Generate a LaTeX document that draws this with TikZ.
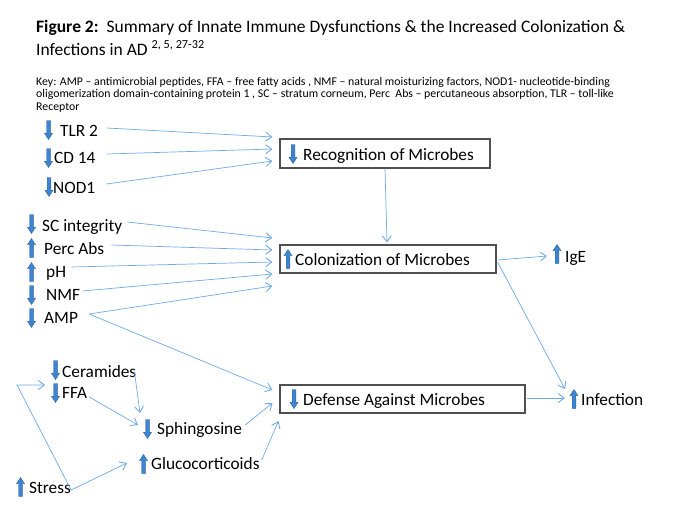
\documentclass[tikz,border=0pt]{standalone}
\usepackage{fontspec}
\setmainfont{Carlito}
\usetikzlibrary{arrows.meta,calc}
\definecolor{lnblue}{HTML}{6EAAE6}
\definecolor{icblue}{HTML}{3F84CF}
\definecolor{icedge}{HTML}{2C64A8}
\definecolor{boxgray}{HTML}{505050}
\begin{document}
\begin{tikzpicture}[x=1pt,y=-1pt,
  conn/.style={draw=lnblue, line width=0.7pt, -{Straight Barb[length=6pt,width=9pt,line width=0.9pt]}},
  lbl/.style={anchor=west, inner sep=0pt, text height=12pt, text depth=1pt, font=\fontsize{17.3}{20}\selectfont},
  tline/.style={anchor=base west, inner sep=0pt, font=\fontsize{17.5}{21}\selectfont},
  kline/.style={anchor=base west, inner sep=0pt, font=\fontsize{11.8}{13}\selectfont},
  mbox/.style={draw=boxgray, line width=1.1pt, inner sep=0pt, rectangle},
  upic/.pic={\fill[icblue, draw=icedge, line width=0.4pt] (-1.8,9.5) -- (-1.8,-3.3) -- (-4,-3.3) -- (0,-9.5) -- (4,-3.3) -- (1.8,-3.3) -- (1.8,9.5) -- cycle;},
  dnpic/.pic={\fill[icblue, draw=icedge, line width=0.4pt] (-1.8,-9.5) -- (-1.8,3.3) -- (-4,3.3) -- (0,9.5) -- (4,3.3) -- (1.8,3.3) -- (1.8,-9.5) -- cycle;}
]
\useasboundingbox (0,0) rectangle (700,525);

% title and key
\node[tline] (t1) at (36,32) {\textbf{Figure 2:}\ \ Summary of Innate Immune Dysfunctions \& the Increased Colonization \&};
\node[tline] (t2) at (36,55) {Infections in AD \textsuperscript{2, 5, 27-32}};
\node[kline] (k1) at (36,85) {Key: AMP – antimicrobial peptides, FFA – free fatty acids , NMF – natural moisturizing factors, NOD1- nucleotide-binding};
\node[kline] (k2) at (36,97.5) {oligomerization domain-containing protein 1 , SC – stratum corneum, Perc\ \ Abs – percutaneous absorption, TLR – toll-like};
\node[kline] (k3) at (36,110) {Receptor};

% boxes
\node[mbox, minimum width=210pt, minimum height=29pt] (recog) at (385,153.5) {};
\node[mbox, minimum width=216pt, minimum height=28pt] (colon) at (388,259) {};
\node[mbox, minimum width=245pt, minimum height=28pt] (def) at (402.5,399) {};

% text labels
\node[lbl] (tlr) at (60,131) {TLR 2};
\node[lbl] (cd) at (54,158) {CD 14};
\node[lbl] (nod) at (53,188) {NOD1};
\node[lbl] (sc) at (42,226) {SC integrity};
\node[lbl] (perc) at (44,249) {Perc Abs};
\node[lbl] (ph) at (46,272) {pH};
\node[lbl] (nmf) at (46,295) {NMF};
\node[lbl] (amp) at (44,318) {AMP};
\node[lbl] (recogt) at (303,155) {Recognition of Microbes};
\node[lbl] (colont) at (295,260) {Colonization of Microbes};
\node[lbl] (deft) at (303,400) {Defense Against Microbes};
\node[lbl] (ige) at (565,257) {IgE};
\node[lbl] (inf) at (581,400) {Infection};
\node[lbl] (cer) at (62,372) {Ceramides};
\node[lbl] (ffa) at (62,393) {FFA};
\node[lbl] (sph) at (157,429) {Sphingosine};
\node[lbl] (glu) at (151,464) {Glucocorticoids};
\node[lbl] (str) at (29,488) {Stress};

% icons
\pic at (48.5,130) {dnpic};
\pic at (48.5,158) {dnpic};
\pic at (49,187) {dnpic};
\pic at (31.5,224) {dnpic};
\pic at (31.5,248) {upic};
\pic at (31.5,272) {upic};
\pic at (31.5,295) {dnpic};
\pic at (31.5,318) {dnpic};
\pic at (293,154) {dnpic};
\pic at (288,259) {upic};
\pic at (294,399) {dnpic};
\pic at (557,254) {upic};
\pic at (574,399) {upic};
\pic at (55.5,370) {dnpic};
\pic at (55.5,393) {dnpic};
\pic at (147.5,429) {dnpic};
\pic at (143.5,464) {upic};
\pic at (20.5,487) {upic};

% connectors
\draw[conn] ($(tlr.east)+(9,-3)$) -- ($(recog.west)+(-7,-16.5)$);
\draw[conn] ($(cd.east)+(11,-4)$) -- ($(recog.west)+(-7,-4.5)$);
\draw[conn] ($(nod.east)+(11,-4)$) -- ($(recog.west)+(-7,7.5)$);
\draw[conn] ($(sc.east)+(5,-4)$) -- ($(colon.west)+(-7,-21)$);
\draw[conn] ($(perc.east)+(7,-4)$) -- ($(colon.west)+(-7,-9)$);
\draw[conn] ($(ph.east)+(5,-5)$) -- ($(colon.west)+(-7,3)$);
\draw[conn] ($(nmf.east)+(2,-4)$) -- ($(colon.west)+(-7,15)$);
\draw[conn] ($(amp.east)+(11,-4)$) -- ($(colon.west)+(-7,27)$);
\draw[conn] ($(amp.east)+(11,-4)$) -- ($(def.west)+(-7,-9)$);
\draw[conn] (recog.south) -- ($(colon.north)+(-1,-2)$);
\draw[conn] ($(colon.east)+(1,1)$) -- ($(ige.west)+(-18,-1)$);
\draw[conn] ($(colon.east)+(1,3)$) -- ($(inf.west)+(-16,-11)$);
\draw[conn] ($(def.east)+(1,-1)$) -- ($(inf.west)+(-16,-2)$);
\coordinate (scorner) at (17,385);
\draw[conn] ($(str.east)+(0,2)$) -- (scorner) -- ($(ffa.west)+(-17,-8)$);
\draw[conn] ($(str.east)+(0,2)$) -- ($(glu.west)+(-24,-1)$);
\draw[conn] ($(cer.east)+(-2,0)$) -- ($(sph.west)+(-17,-16)$);
\draw[conn] ($(ffa.east)+(2,4)$) -- ($(sph.west)+(-19,-4)$);
\draw[conn] ($(sph.east)+(3,-4)$) -- ($(def.west)+(-7,4)$);
\draw[conn] ($(glu.east)+(2,-4)$) -- ($(def.west)+(-1,22)$);
\end{tikzpicture}
\end{document}
